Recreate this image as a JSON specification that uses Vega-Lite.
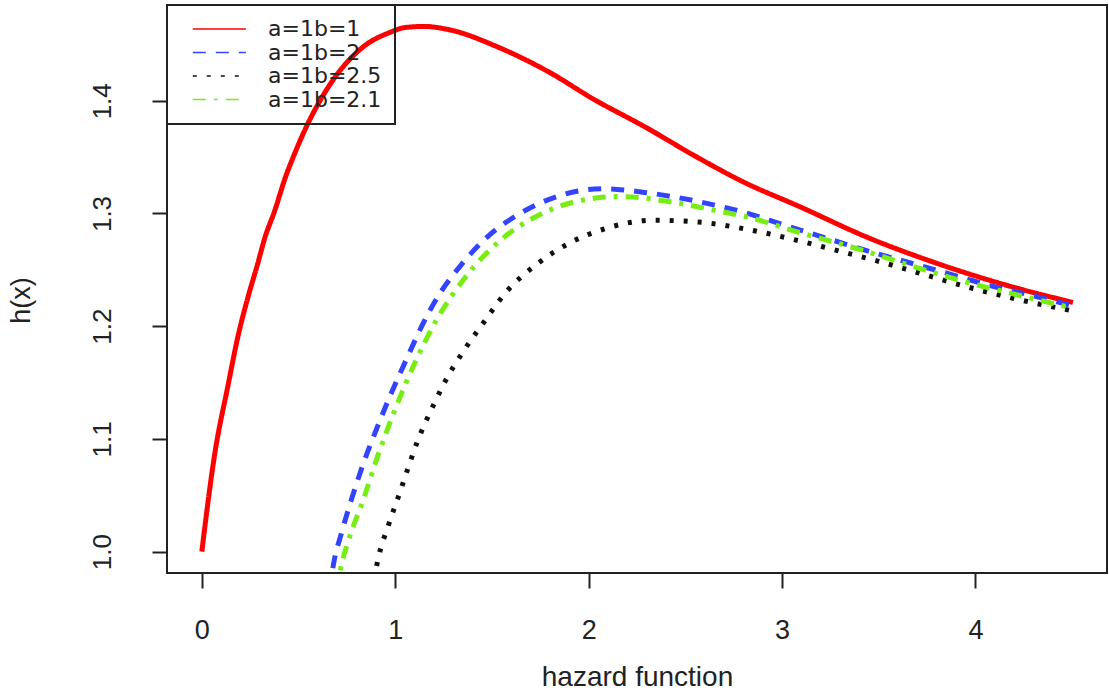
{
  "$schema": "https://vega.github.io/schema/vega-lite/v6.json",
  "width": 940,
  "height": 568,
  "autosize": {"type": "none"},
  "padding": {"left": 167, "top": 5, "right": 2, "bottom": 120},
  "background": "white",
  "config": {
    "view": {"stroke": "#222222", "strokeWidth": 2},
    "font": "Liberation Sans"
  },
  "data": {
    "values": [
      {"x": 0, "y": 1.0, "s": "a=1b=1"},
      {"x": 0.068, "y": 1.088, "s": "a=1b=1"},
      {"x": 0.135, "y": 1.147, "s": "a=1b=1"},
      {"x": 0.187, "y": 1.191, "s": "a=1b=1"},
      {"x": 0.239, "y": 1.226, "s": "a=1b=1"},
      {"x": 0.285, "y": 1.253, "s": "a=1b=1"},
      {"x": 0.327, "y": 1.279, "s": "a=1b=1"},
      {"x": 0.378, "y": 1.303, "s": "a=1b=1"},
      {"x": 0.43, "y": 1.331, "s": "a=1b=1"},
      {"x": 0.482, "y": 1.354, "s": "a=1b=1"},
      {"x": 0.549, "y": 1.38, "s": "a=1b=1"},
      {"x": 0.621, "y": 1.403, "s": "a=1b=1"},
      {"x": 0.689, "y": 1.421, "s": "a=1b=1"},
      {"x": 0.777, "y": 1.439, "s": "a=1b=1"},
      {"x": 0.859, "y": 1.451, "s": "a=1b=1"},
      {"x": 0.963, "y": 1.46, "s": "a=1b=1"},
      {"x": 1.05, "y": 1.465, "s": "a=1b=1"},
      {"x": 1.15, "y": 1.466, "s": "a=1b=1"},
      {"x": 1.28, "y": 1.463, "s": "a=1b=1"},
      {"x": 1.54, "y": 1.447, "s": "a=1b=1"},
      {"x": 1.8, "y": 1.425, "s": "a=1b=1"},
      {"x": 2.02, "y": 1.402, "s": "a=1b=1"},
      {"x": 2.3, "y": 1.376, "s": "a=1b=1"},
      {"x": 2.55, "y": 1.351, "s": "a=1b=1"},
      {"x": 2.8, "y": 1.328, "s": "a=1b=1"},
      {"x": 3.092, "y": 1.306, "s": "a=1b=1"},
      {"x": 3.439, "y": 1.279, "s": "a=1b=1"},
      {"x": 3.78, "y": 1.257, "s": "a=1b=1"},
      {"x": 4.127, "y": 1.238, "s": "a=1b=1"},
      {"x": 4.504, "y": 1.221, "s": "a=1b=1"},

      {"x": 0.66, "y": 0.965, "s": "a=1b=2"},
      {"x": 0.68, "y": 0.988, "s": "a=1b=2"},
      {"x": 0.723, "y": 1.017, "s": "a=1b=2"},
      {"x": 0.775, "y": 1.047, "s": "a=1b=2"},
      {"x": 0.835, "y": 1.078, "s": "a=1b=2"},
      {"x": 0.904, "y": 1.109, "s": "a=1b=2"},
      {"x": 0.973, "y": 1.138, "s": "a=1b=2"},
      {"x": 1.059, "y": 1.171, "s": "a=1b=2"},
      {"x": 1.137, "y": 1.2, "s": "a=1b=2"},
      {"x": 1.223, "y": 1.227, "s": "a=1b=2"},
      {"x": 1.344, "y": 1.255, "s": "a=1b=2"},
      {"x": 1.481, "y": 1.28, "s": "a=1b=2"},
      {"x": 1.645, "y": 1.3, "s": "a=1b=2"},
      {"x": 1.835, "y": 1.315, "s": "a=1b=2"},
      {"x": 2.076, "y": 1.322, "s": "a=1b=2"},
      {"x": 2.318, "y": 1.318, "s": "a=1b=2"},
      {"x": 2.611, "y": 1.309, "s": "a=1b=2"},
      {"x": 2.782, "y": 1.302, "s": "a=1b=2"},
      {"x": 3.007, "y": 1.29, "s": "a=1b=2"},
      {"x": 3.231, "y": 1.278, "s": "a=1b=2"},
      {"x": 3.438, "y": 1.267, "s": "a=1b=2"},
      {"x": 3.645, "y": 1.257, "s": "a=1b=2"},
      {"x": 3.852, "y": 1.247, "s": "a=1b=2"},
      {"x": 4.076, "y": 1.236, "s": "a=1b=2"},
      {"x": 4.298, "y": 1.227, "s": "a=1b=2"},
      {"x": 4.505, "y": 1.218, "s": "a=1b=2"},

      {"x": 0.89, "y": 0.975, "s": "a=1b=2.5"},
      {"x": 0.912, "y": 0.994, "s": "a=1b=2.5"},
      {"x": 0.964, "y": 1.023, "s": "a=1b=2.5"},
      {"x": 1.025, "y": 1.053, "s": "a=1b=2.5"},
      {"x": 1.068, "y": 1.075, "s": "a=1b=2.5"},
      {"x": 1.111, "y": 1.096, "s": "a=1b=2.5"},
      {"x": 1.206, "y": 1.133, "s": "a=1b=2.5"},
      {"x": 1.258, "y": 1.151, "s": "a=1b=2.5"},
      {"x": 1.361, "y": 1.18, "s": "a=1b=2.5"},
      {"x": 1.456, "y": 1.203, "s": "a=1b=2.5"},
      {"x": 1.577, "y": 1.231, "s": "a=1b=2.5"},
      {"x": 1.732, "y": 1.255, "s": "a=1b=2.5"},
      {"x": 1.904, "y": 1.274, "s": "a=1b=2.5"},
      {"x": 2.094, "y": 1.287, "s": "a=1b=2.5"},
      {"x": 2.335, "y": 1.294, "s": "a=1b=2.5"},
      {"x": 2.593, "y": 1.292, "s": "a=1b=2.5"},
      {"x": 2.817, "y": 1.286, "s": "a=1b=2.5"},
      {"x": 3.058, "y": 1.277, "s": "a=1b=2.5"},
      {"x": 3.265, "y": 1.268, "s": "a=1b=2.5"},
      {"x": 3.49, "y": 1.258, "s": "a=1b=2.5"},
      {"x": 3.712, "y": 1.247, "s": "a=1b=2.5"},
      {"x": 3.955, "y": 1.235, "s": "a=1b=2.5"},
      {"x": 4.213, "y": 1.224, "s": "a=1b=2.5"},
      {"x": 4.49, "y": 1.214, "s": "a=1b=2.5"},

      {"x": 0.7, "y": 0.965, "s": "a=1b=2.1"},
      {"x": 0.715, "y": 0.982, "s": "a=1b=2.1"},
      {"x": 0.757, "y": 1.009, "s": "a=1b=2.1"},
      {"x": 0.835, "y": 1.046, "s": "a=1b=2.1"},
      {"x": 0.904, "y": 1.082, "s": "a=1b=2.1"},
      {"x": 0.999, "y": 1.126, "s": "a=1b=2.1"},
      {"x": 1.111, "y": 1.171, "s": "a=1b=2.1"},
      {"x": 1.215, "y": 1.206, "s": "a=1b=2.1"},
      {"x": 1.37, "y": 1.245, "s": "a=1b=2.1"},
      {"x": 1.542, "y": 1.276, "s": "a=1b=2.1"},
      {"x": 1.714, "y": 1.296, "s": "a=1b=2.1"},
      {"x": 1.921, "y": 1.31, "s": "a=1b=2.1"},
      {"x": 2.162, "y": 1.315, "s": "a=1b=2.1"},
      {"x": 2.438, "y": 1.31, "s": "a=1b=2.1"},
      {"x": 2.645, "y": 1.303, "s": "a=1b=2.1"},
      {"x": 2.817, "y": 1.297, "s": "a=1b=2.1"},
      {"x": 3.093, "y": 1.283, "s": "a=1b=2.1"},
      {"x": 3.404, "y": 1.268, "s": "a=1b=2.1"},
      {"x": 3.679, "y": 1.253, "s": "a=1b=2.1"},
      {"x": 3.955, "y": 1.239, "s": "a=1b=2.1"},
      {"x": 4.234, "y": 1.227, "s": "a=1b=2.1"},
      {"x": 4.505, "y": 1.216, "s": "a=1b=2.1"}
    ]
  },
  "mark": {"type": "line", "strokeWidth": 5, "clip": true, "interpolate": "monotone"},
  "encoding": {
    "x": {
      "field": "x",
      "type": "quantitative",
      "scale": {"domain": [-0.18, 4.68], "nice": false, "zero": false},
      "axis": {
        "values": [0, 1, 2, 3, 4],
        "grid": false,
        "domain": false,
        "tickSize": 15,
        "tickWidth": 2,
        "tickColor": "#222222",
        "labelFontSize": 27,
        "labelColor": "#222222",
        "labelPadding": 29,
        "labelFlush": false,
        "title": "hazard function",
        "titleFontSize": 28,
        "titleFontWeight": "normal",
        "titleColor": "#222222",
        "titlePadding": 20
      }
    },
    "y": {
      "field": "y",
      "type": "quantitative",
      "scale": {"domain": [0.981, 1.485], "nice": false, "zero": false},
      "axis": {
        "values": [1.0, 1.1, 1.2, 1.3, 1.4],
        "format": ".1f",
        "grid": false,
        "domain": false,
        "tickSize": 15,
        "tickWidth": 2,
        "tickColor": "#222222",
        "labelFontSize": 26,
        "labelColor": "#222222",
        "labelAngle": -90,
        "labelAlign": "center",
        "labelBaseline": "alphabetic",
        "labelPadding": 42,
        "labelFlush": false,
        "title": "h(x)",
        "titleFontSize": 27,
        "titleFontWeight": "normal",
        "titleColor": "#222222",
        "titleAngle": -90,
        "titleAlign": "center",
        "titleBaseline": "middle",
        "titleX": -146,
        "titleY": 295
      }
    },
    "color": {
      "field": "s",
      "type": "nominal",
      "scale": {
        "domain": ["a=1b=1", "a=1b=2", "a=1b=2.5", "a=1b=2.1"],
        "range": ["#ff0000", "#3344ff", "#111111", "#77ee11"]
      },
      "legend": {
        "title": null,
        "orient": "none",
        "legendX": 0,
        "legendY": 0,
        "padding": 13,
        "strokeColor": "#222222",
        "symbolType": "M0.2,0H6.1",
        "symbolSize": 324,
        "symbolStrokeWidth": 1.6,
        "labelFont": "DejaVu Sans",
        "labelFontSize": 22,
        "labelColor": "#222222",
        "labelOffset": 66,
        "rowPadding": 1.5,
        "encode": {"legend": {"update": {"strokeWidth": {"value": 2}}}}
      }
    },
    "strokeDash": {
      "field": "s",
      "type": "nominal",
      "scale": {
        "domain": ["a=1b=1", "a=1b=2", "a=1b=2.5", "a=1b=2.1"],
        "range": [[1, 0], [13, 10], [4, 10], [13, 8, 4, 8]]
      }
    }
  }
}
